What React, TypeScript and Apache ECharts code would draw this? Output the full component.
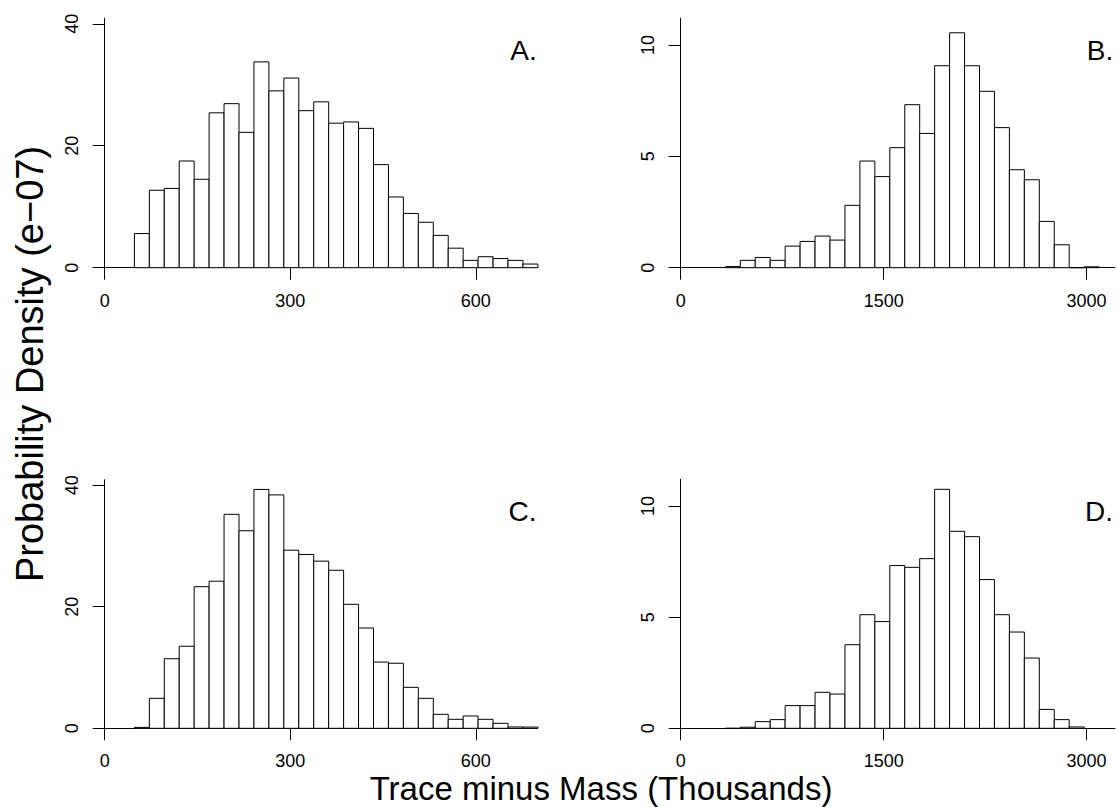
import { useEffect, useRef } from "react";
import * as echarts from "echarts";

// Bin layout (in axis units)
const binStartAC = 48;
const binWidthAC = 24.16;
const binStartBD = 330;
const binWidthBD = 110.5;

// Densities (x 1e-07)
const densityA = [5.6, 12.7, 13.0, 17.5, 14.5, 25.4, 26.9, 22.2, 33.75, 29.0, 31.1, 25.75, 27.2, 23.7, 23.9, 22.85, 16.9, 11.6, 8.9, 7.45, 5.3, 3.2, 1.2, 1.8, 1.5, 1.2, 0.6];
const densityB = [0.05, 0.33, 0.46, 0.33, 0.97, 1.18, 1.42, 1.24, 2.8, 4.79, 4.09, 5.39, 7.32, 6.03, 9.07, 10.55, 9.07, 7.92, 6.29, 4.4, 3.95, 2.08, 1.03, 0, 0.04];
const densityC = [0.15, 4.93, 11.45, 13.5, 23.3, 24.2, 35.2, 32.5, 39.3, 38.4, 29.3, 28.6, 27.5, 26.0, 20.4, 16.5, 10.9, 10.7, 6.74, 4.93, 2.3, 1.48, 2.03, 1.48, 0.82, 0.22, 0.2];
const densityD = [0, 0.05, 0.3, 0.39, 1.02, 1.02, 1.62, 1.54, 3.76, 5.11, 4.8, 7.32, 7.24, 7.63, 10.75, 8.86, 8.62, 6.69, 5.11, 4.33, 3.16, 0.85, 0.39, 0.06];

const xTicksAC = [0, 300, 600];
const xTicksBD = [0, 1500, 3000];
const yTicksAC = [0, 20, 40];
const yTicksBD = [0, 5, 10];
const xMaxAC = 700;
const xMaxBD = 3210;
const yMaxAC = 40.9;
const yMaxBD = 11.2;
const panelLabels = ["A.", "B.", "C.", "D."];
const xLabel = "Trace minus Mass (Thousands)";
const yLabel = "Probability Density (e\u221207)";

const FONT = '"Liberation Sans", Arial, Helvetica, sans-serif';

function toBins(dens: number[], start: number, width: number) {
  return dens.map((d, i) => [start + i * width, start + (i + 1) * width, d]);
}

const panels = [
  { dens: densityA, start: binStartAC, width: binWidthAC, xTicks: xTicksAC, yTicks: yTicksAC, xMax: xMaxAC, yMax: yMaxAC },
  { dens: densityB, start: binStartBD, width: binWidthBD, xTicks: xTicksBD, yTicks: yTicksBD, xMax: xMaxBD, yMax: yMaxBD },
  { dens: densityC, start: binStartAC, width: binWidthAC, xTicks: xTicksAC, yTicks: yTicksAC, xMax: xMaxAC, yMax: yMaxAC },
  { dens: densityD, start: binStartBD, width: binWidthBD, xTicks: xTicksBD, yTicks: yTicksBD, xMax: xMaxBD, yMax: yMaxBD },
];

const grids = [
  { left: 104.7, top: 18.3, width: 433, height: 249.4 },
  { left: 680.7, top: 18.3, width: 434.3, height: 249.4 },
  { left: 104.7, top: 479.7, width: 433, height: 248.6 },
  { left: 680.7, top: 479.3, width: 434.3, height: 249 },
];

const labelPos = [
  { x: 536.7, y: 50.3 },
  { x: 1113.3, y: 50.3 },
  { x: 536.5, y: 511.5 },
  { x: 1113, y: 511.5 },
];

export default function App() {
  const ref = useRef<HTMLDivElement>(null);
  useEffect(() => {
    document.body.style.margin = "0";
    if (!ref.current) return;
    const chart = echarts.init(ref.current, null, { renderer: "svg" });
    const fmt = (v: number) => String(v);
    const option: any = {
      animation: false,
      backgroundColor: "#fff",
      grid: grids.map((g) => ({ ...g, containLabel: false })),
      xAxis: panels.map((p, i) => ({
        gridIndex: i,
        type: "value",
        min: 0,
        max: p.xMax,
        axisLine: { show: true, onZero: false, lineStyle: { color: "#000", width: 1 } },
        axisTick: { show: true, length: 12, customValues: p.xTicks, lineStyle: { color: "#000", width: 1 } },
        axisLabel: { customValues: p.xTicks, margin: 24, fontSize: 18, lineHeight: 18, color: "#000", fontFamily: FONT, formatter: fmt },
        splitLine: { show: false },
      })),
      yAxis: panels.map((p, i) => ({
        gridIndex: i,
        type: "value",
        min: 0,
        max: p.yMax,
        axisLine: { show: true, onZero: false, lineStyle: { color: "#000", width: 1 } },
        axisTick: { show: true, length: 12, customValues: p.yTicks, lineStyle: { color: "#000", width: 1 } },
        axisLabel: { customValues: p.yTicks, rotate: 90, margin: 24, fontSize: 18, color: "#000", fontFamily: FONT, formatter: fmt },
        splitLine: { show: false },
      })),
      series: panels.map((p, i) => ({
        type: "custom",
        xAxisIndex: i,
        yAxisIndex: i,
        clip: false,
        encode: { x: [0, 1], y: 2 },
        data: toBins(p.dens, p.start, p.width),
        renderItem: (_params: any, api: any) => {
          const x0 = api.value(0);
          const x1 = api.value(1);
          const y = api.value(2);
          const a = api.coord([x0, y]);
          const b = api.coord([x1, 0]);
          return {
            type: "rect",
            shape: { x: a[0], y: a[1], width: b[0] - a[0], height: b[1] - a[1] },
            style: { fill: "#fff", stroke: "#000", lineWidth: 1 },
          };
        },
      })),
      graphic: [
        ...panelLabels.map((t, i) => ({
          type: "text",
          x: labelPos[i].x,
          y: labelPos[i].y,
          style: {
            text: t,
            font: `28px ${FONT}`,
            fill: "#000",
            align: "right",
            textAlign: "right",
            verticalAlign: "middle",
            textVerticalAlign: "middle",
          },
        })),
        {
          type: "text",
          x: 601,
          y: 788.5,
          style: {
            text: xLabel,
            font: `33px ${FONT}`,
            lineHeight: 26,
            fill: "#000",
            align: "center",
            textAlign: "center",
            verticalAlign: "middle",
            textVerticalAlign: "middle",
          },
        },
        {
          type: "text",
          x: 29.5,
          y: 364,
          rotation: Math.PI / 2,
          style: {
            text: yLabel,
            font: `38px ${FONT}`,
            fill: "#000",
            align: "center",
            textAlign: "center",
            verticalAlign: "middle",
            textVerticalAlign: "middle",
          },
        },
      ],
    };
    chart.setOption(option);
    return () => chart.dispose();
  }, []);
  return (
    <div
      ref={ref}
      style={{ position: "fixed", left: 0, top: 0, width: 1117, height: 807, background: "#fff" }}
    />
  );
}
